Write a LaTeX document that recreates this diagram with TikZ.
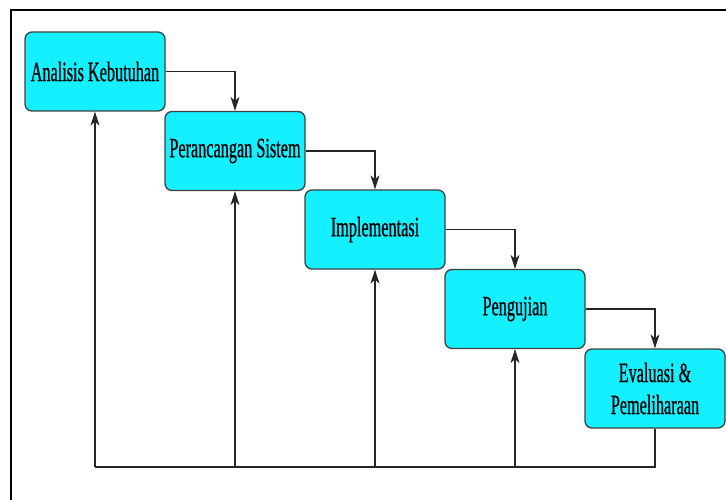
\documentclass[tikz,border=0pt]{standalone}
\usepackage{fontspec}
\setmainfont[FakeStretch=0.58,FakeBold=0.6]{Liberation Serif}
\usetikzlibrary{arrows.meta}
\definecolor{boxcyan}{RGB}{20,240,255}
\tikzset{
  phase/.style={draw=black!75, line width=1.3pt, fill=boxcyan, rounded corners=7pt,
    minimum width=140pt, minimum height=79pt, inner sep=2pt, align=center,
    font=\fontsize{28}{32}\selectfont},
  flow/.style={-{Stealth[length=14pt,width=9pt,inset=4pt]}, line width=1.2pt, draw=black!85},
  back/.style={line width=1.2pt, draw=black!85}
}
\begin{document}
\begin{tikzpicture}[x=1pt,y=-1pt]
  \clip (0,0) rectangle (726,500);
  \draw[line width=2pt] (11,10) rectangle (740,510);

  \node [phase] (analisis) at (95,71.5) {Analisis Kebutuhan};
  \node [phase] (perancangan) at (235,151) {Perancangan Sistem};
  \node [phase] (implementasi) at (375,229.5) {Implementasi};
  \node [phase] (pengujian) at (515,309) {Pengujian};
  \node [phase] (evaluasi) at (655,388.5) {Evaluasi \&\\Pemeliharaan};

  \draw[flow] (analisis.east) -| (perancangan.north);
  \draw[flow] (perancangan.east) -| (implementasi.north);
  \draw[flow] (implementasi.east) -| (pengujian.north);
  \draw[flow] (pengujian.east) -| (evaluasi.north);

  % feedback line under the steps
  \coordinate (base) at (95,467);
  \draw[back] (evaluasi.south) |- (base);
  \foreach \step in {analisis,perancangan,implementasi,pengujian}
    \draw[flow] (\step.south |- base) -- (\step.south);
\end{tikzpicture}
\end{document}
